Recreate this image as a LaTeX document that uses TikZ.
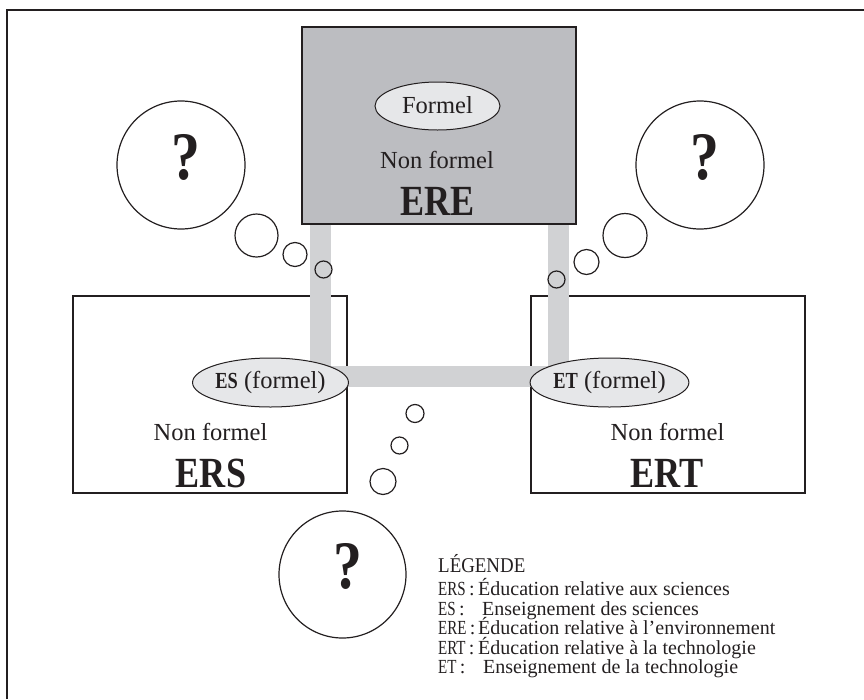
\documentclass[tikz,border=0pt]{standalone}
\usepackage{fontspec}
\usepackage{graphicx}
\setmainfont{Liberation Serif}
\usetikzlibrary{shapes.geometric}
\definecolor{boxgray}{HTML}{BCBDC1}
\definecolor{bargray}{HTML}{D1D2D4}
\definecolor{ellgray}{HTML}{E6E7E9}
\definecolor{ink}{HTML}{231F20}
\newcommand{\condb}[2]{\scalebox{#1}[1]{\bfseries #2}}
\newcommand{\condr}[1]{\scalebox{0.75}[1]{#1}}
\begin{document}
\begin{tikzpicture}[x=1pt,y=-1pt,
  frameline/.style={draw=ink, line width=1.4pt},
  dombox/.style={draw=ink, line width=1.3pt, minimum width=274pt, minimum height=197pt, inner sep=0pt},
  ell/.style={ellipse, draw=ink, line width=1pt, fill=ellgray, minimum width=125pt, minimum height=48pt, inner sep=0pt, text=ink, font=\fontsize{24.5}{28}\selectfont},
  bar/.style={draw=bargray, line width=21pt},
  bubble/.style={circle, draw=ink, line width=1.2pt, inner sep=0pt},
  lbl/.style={anchor=base, text=ink, font=\fontsize{24.5}{28}\selectfont},
  ttl/.style={anchor=base, text=ink, font=\fontsize{43}{48}\selectfont},
  qm/.style={text=ink, inner sep=0pt, font=\fontsize{68}{70}\selectfont},
  leg/.style={anchor=base west, inner sep=0pt, text=ink, font=\fontsize{20}{23}\selectfont}
]
\useasboundingbox (0,0) rectangle (864,699);
% frame
\coordinate (fbl) at (7,699);
\coordinate (ftl) at (7,10);
\coordinate (ftr) at (864,10);
\draw[frameline] (fbl) -- (ftl) -- (ftr);
% lower boxes
\node[dombox] (ERS) at (210,394.5) {};
\node[dombox] (ERT) at (668,394.5) {};
% upper box
\node[dombox, fill=boxgray] (ERE) at (439,125.5) {};
% bars
\coordinate (lb) at (320.5,376.5);
\coordinate (rb) at (558.5,376.5);
\draw[bar] (ERE.south -| lb) -- (lb) -- (rb) -- (ERE.south -| rb);
% ellipses
\node[ell] (EREf) at (437.5,106) {\raisebox{3pt}{Formel}};
\node[ell, minimum height=49pt] (ESf) at (270.5,382.5) {\condb{0.8}{\fontsize{23}{24}\selectfont ES} (formel)};
\node[ell, minimum height=49pt] (ETf) at (609.5,382.5) {\condb{0.8}{\fontsize{23}{24}\selectfont ET} (formel)};
% texts
\node[lbl] (EREnf) at (437,168) {Non formel};
\node[ttl] (EREt) at (437.5,215) {\condb{0.84}{ERE}};
\node[lbl] (ERSnf) at (210.5,440) {Non formel};
\node[ttl] (ERSt) at (211,487) {\condb{0.84}{ERS}};
\node[lbl] (ERTnf) at (667.5,440) {Non formel};
\node[ttl] (ERTt) at (667,487) {\condb{0.84}{ERT}};
% bubbles left
\node[bubble, minimum size=128pt] (bL) at (181,165) {};
\node[bubble, minimum size=43pt] (bL1) at (256.5,235.5) {};
\node[bubble, minimum size=24pt] (bL2) at (295,254.5) {};
\node[bubble, minimum size=17pt] (bL3) at (323.5,269.5) {};
\node[qm] (qL) at (186,157) {\condb{0.85}{?}};
% bubbles right
\node[bubble, minimum size=128pt] (bR) at (700,165) {};
\node[bubble, minimum size=44pt] (bR1) at (625,235.5) {};
\node[bubble, minimum size=25pt] (bR2) at (586.5,262) {};
\node[bubble, minimum size=17pt] (bR3) at (556.5,279.5) {};
\node[qm] (qR) at (704.5,157) {\condb{0.85}{?}};
% bubbles bottom
\node[bubble, minimum size=127pt] (bB) at (342.5,574.5) {};
\node[bubble, minimum size=26pt] (bB1) at (383,481.5) {};
\node[bubble, minimum size=17pt] (bB2) at (399.5,445.5) {};
\node[bubble, minimum size=18pt] (bB3) at (415,413.5) {};
\node[qm] (qB) at (347.5,566) {\condb{0.85}{?}};
% legend
\node[leg, font=\fontsize{21}{24}\selectfont] (legT) at (438,572) {\scalebox{0.9}[1]{LÉGENDE}};
\node[leg] (aERS) at (438,595.5) {\condr{ERS}\,:};
\node[leg] (dERS) at (478,595.5) {Éducation relative aux sciences};
\node[leg] (aES) at (438,615) {\condr{ES}\,:};
\node[leg] (dES) at (482,615) {Enseignement des sciences};
\node[leg] (aERE) at (438,634.5) {\condr{ERE}\,:};
\node[leg] (dERE) at (478,634.5) {Éducation relative à l’environnement};
\node[leg] (aERT) at (438,654) {\condr{ERT}\,:};
\node[leg] (dERT) at (478,654) {Éducation relative à la technologie};
\node[leg] (aET) at (438,673.5) {\condr{ET}\,:};
\node[leg] (dET) at (483,673.5) {Enseignement de la technologie};
\end{tikzpicture}
\end{document}
